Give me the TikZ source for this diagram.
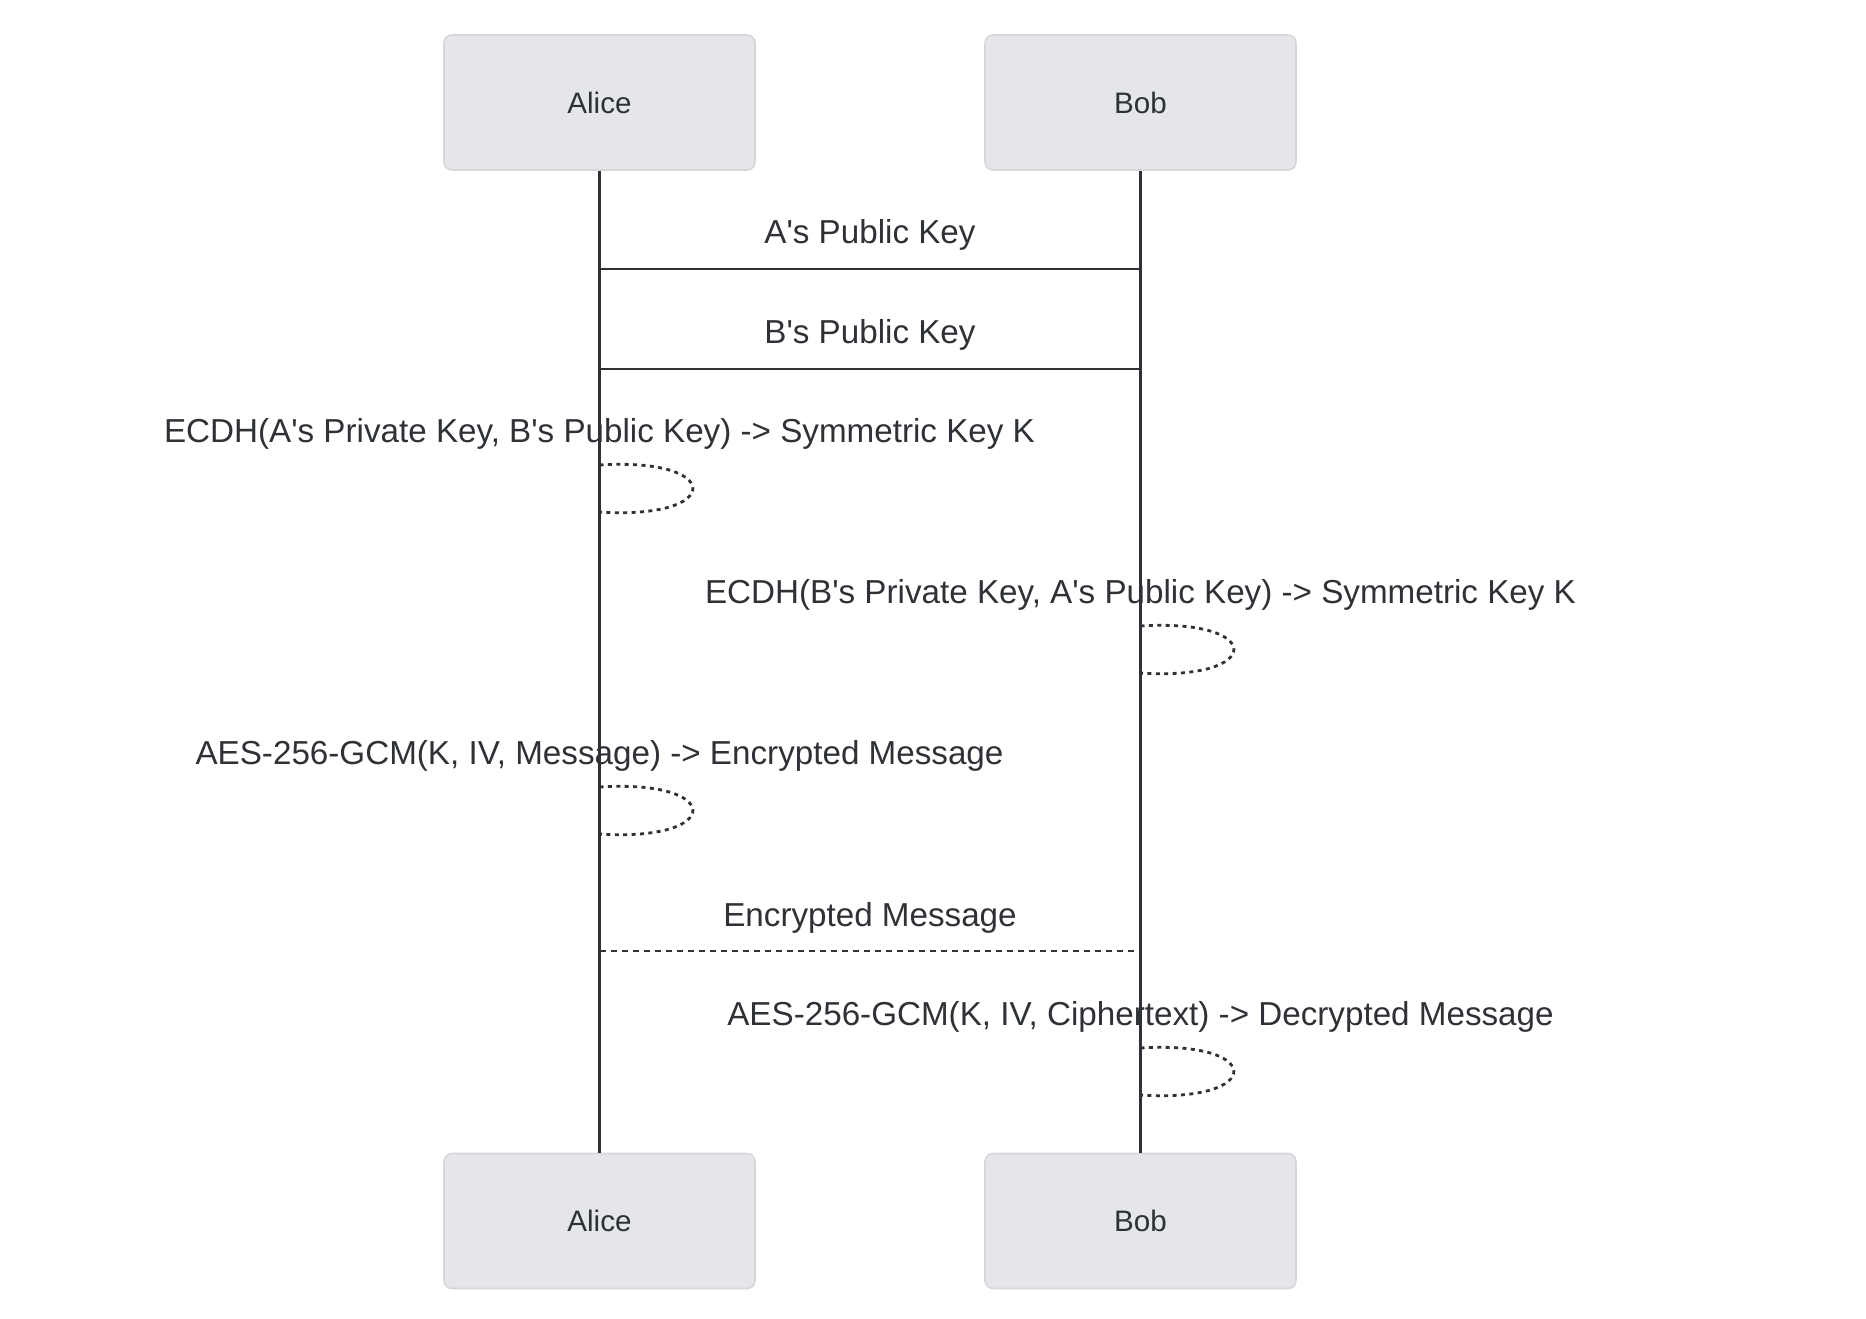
\documentclass[tikz,border=0pt]{standalone}
\usepackage{fontspec}
\setmainfont{Liberation Sans}
\definecolor{actorfill}{HTML}{E5E6EA}
\definecolor{actorline}{HTML}{D6D7DB}
\definecolor{ink}{HTML}{2E3136}
\newcommand{\ap}{\textquotesingle}

\begin{document}
\begin{tikzpicture}[x=0.5pt,y=-0.5pt,
  actor/.style={draw=actorline,fill=actorfill,rounded corners=4pt,line width=0.8pt,
    minimum width=155.5pt,minimum height=67.5pt,font=\fontsize{14.8}{16}\selectfont,text=ink},
  lifeline/.style={draw=ink,line width=1.7pt},
  msg/.style={draw=ink,line width=1.3pt},
  msgtext/.style={anchor=base,font=\fontsize{16.6}{18}\selectfont,text=ink,inner sep=0pt},
  selfloop/.style={draw=ink,line width=1.4pt,dash pattern=on 2pt off 2.2pt}]
\useasboundingbox (0,0) rectangle (1866,1318);

% participants
\node[actor] (aliceT) at (599.5,102.5) {Alice};
\node[actor] (bobT) at (1140.5,102.5) {Bob};
\node[actor] (aliceB) at (599.5,1221) {Alice};
\node[actor] (bobB) at (1140.5,1221) {Bob};

\draw[lifeline] (aliceT.south) -- (aliceB.north);
\draw[lifeline] (bobT.south) -- (bobB.north);

% key exchange
\coordinate (a1) at (aliceT.south |- 0,269);
\coordinate (b1) at (bobT.south |- 0,269);
\draw[msg] (a1) -- (b1);
\node[msgtext] (m1) at (870,243) {A\ap s Public Key};
\coordinate (a2) at (aliceT.south |- 0,369);
\coordinate (b2) at (bobT.south |- 0,369);
\draw[msg] (b2) -- (a2);
\node[msgtext] (m2) at (870,343) {B\ap s Public Key};

% Alice derives K
\node[msgtext] (n1) at (599.5,442) {ECDH(A\ap s Private Key, B\ap s Public Key) -> Symmetric Key K};
\coordinate (l1s) at (aliceT.south |- 0,465);
\coordinate (l1e) at (aliceT.south |- 0,512);
\draw[selfloop] (l1s) .. controls (724,457) and (724,520) .. (l1e);

% Bob derives K
\node[msgtext] (n2) at (1140.5,603) {ECDH(B\ap s Private Key, A\ap s Public Key) -> Symmetric Key K};
\coordinate (l2s) at (bobT.south |- 0,626);
\coordinate (l2e) at (bobT.south |- 0,673);
\draw[selfloop] (l2s) .. controls (1265,618) and (1265,681) .. (l2e);

% Alice encrypts
\node[msgtext] (n3) at (599.5,764) {AES-256-GCM(K, IV, Message) -> Encrypted Message};
\coordinate (l3s) at (aliceT.south |- 0,787);
\coordinate (l3e) at (aliceT.south |- 0,834);
\draw[selfloop] (l3s) .. controls (724,779) and (724,842) .. (l3e);

% send
\coordinate (a3) at (aliceT.south |- 0,951);
\coordinate (b3) at (bobT.south |- 0,951);
\draw[msg,dash pattern=on 3pt off 2.5pt] (a3) -- (b3);
\node[msgtext] (m3) at (870,926) {Encrypted Message};

% Bob decrypts
\node[msgtext] (n4) at (1140.5,1025) {AES-256-GCM(K, IV, Ciphertext) -> Decrypted Message};
\coordinate (l4s) at (bobT.south |- 0,1048);
\coordinate (l4e) at (bobT.south |- 0,1095);
\draw[selfloop] (l4s) .. controls (1265,1040) and (1265,1103) .. (l4e);
\end{tikzpicture}
\end{document}
